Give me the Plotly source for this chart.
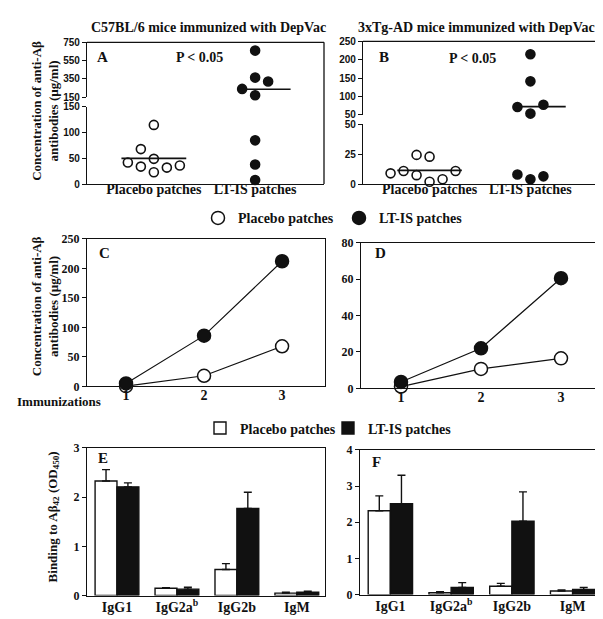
import plotly.graph_objects as go

# ---------------- data ----------------
groups = ["Placebo patches", "LT-IS patches"]
A_placebo = [49, 34, 32, 42, 36, 68, 23, 115]
A_ltis = [660, 364, 171, 240, 321, 85, 38, 8]
B_placebo = [23, 24.5, 2, 7.5, 4, 11, 11, 9]
B_ltis = [215, 141, 53, 71, 77, 4, 8, 6.5]

immunizations = [1, 2, 3]
C_placebo = [0.5, 18, 68]
C_ltis = [5, 86, 212]
D_placebo = [1, 10.7, 16.5]
D_ltis = [3.5, 22, 60.5]

isotypes = ["IgG1", "IgG2a<sup>b</sup>", "IgG2b", "IgM"]
E_placebo = [2.33, 0.15, 0.53, 0.05]
E_placebo_err = [0.23, 0.01, 0.12, 0.02]
E_ltis = [2.21, 0.13, 1.77, 0.07]
E_ltis_err = [0.08, 0.04, 0.33, 0.02]
F_placebo = [2.32, 0.05, 0.23, 0.10]
F_placebo_err = [0.41, 0.03, 0.08, 0.03]
F_ltis = [2.51, 0.20, 2.03, 0.14]
F_ltis_err = [0.79, 0.13, 0.81, 0.06]

# ---------------- layout geometry ----------------
W, H = 603, 619
SERIF = "Liberation Serif"
SANS = "Liberation Sans"
LW = 1.3
BLACK = "#111111"


def xd(a, b):
    return [a / W, b / W]


def yd(top, bottom):
    return [1 - bottom / H, 1 - top / H]


# broken-axis panels
PA = dict(xl=79, xr=316, ut=28, ub=84, lt=94, lb=173, split=150, umax=750, xmin=-0.66, xmax=1.68)
PB = dict(xl=355, xr=590, ut=27, ub=102, lt=112, lb=173, split=50, umax=250, xmin=-0.66, xmax=1.67)


def to_px(p):
    def f(v):
        if v >= p["split"]:
            return p["ut"] + (p["umax"] - v) * (p["ub"] - p["ut"]) / (p["umax"] - p["split"])
        return p["lb"] - v * (p["lb"] - p["lt"]) / p["split"]
    return f


def swarm(values, p, step=13, thresh=11):
    conv = to_px(p)
    ppu = (p["xr"] - p["xl"]) / (p["xmax"] - p["xmin"])
    placed, offs = [], []
    cands = [0, -1, 1, -2, 2, -3, 3, -4, 4]
    for v in values:
        py = conv(v)
        ox = 0
        for c in cands:
            ox = c * step
            if all((ox - qx) ** 2 + (py - qy) ** 2 >= thresh ** 2 for qx, qy in placed):
                break
        placed.append((ox, py))
        offs.append(ox / ppu)
    return offs


fig = go.Figure()


def dot_panel(p, data_sets, xa, ya_up, ya_lo):
    for gi, (vals, filled) in enumerate(data_sets):
        offs = swarm(vals, p)
        up_x, up_y, lo_x, lo_y = [], [], [], []
        for v, o in zip(vals, offs):
            if v >= p["split"]:
                up_x.append(gi + o); up_y.append(v)
            else:
                lo_x.append(gi + o); lo_y.append(v)
        mk = dict(size=9, color=BLACK if filled else "white", line=dict(color=BLACK, width=1.6))
        for xs, ys, ya in ((up_x, up_y, ya_up), (lo_x, lo_y, ya_lo)):
            if xs:
                fig.add_trace(go.Scatter(x=xs, y=ys, mode="markers", marker=mk, xaxis=xa, yaxis=ya,
                                         showlegend=False, cliponaxis=False, hoverinfo="y"))
        mean = sum(vals) / len(vals)
        ext = (-0.32, 0.32) if gi == 0 else (-0.17, 0.35)
        fig.add_trace(go.Scatter(x=[gi + ext[0], gi + ext[1]], y=[mean, mean], mode="lines",
                                 line=dict(color=BLACK, width=1.6), xaxis=xa,
                                 yaxis=ya_up if mean >= p["split"] else ya_lo,
                                 showlegend=False, hoverinfo="skip"))


dot_panel(PA, [(A_placebo, False), (A_ltis, True)], "x", "y", "y2")
dot_panel(PB, [(B_placebo, False), (B_ltis, True)], "x2", "y3", "y4")

# line panels C, D
for xa, ya, pl, lt in (("x3", "y5", C_placebo, C_ltis), ("x4", "y6", D_placebo, D_ltis)):
    for vals in (pl, lt):
        fig.add_trace(go.Scatter(x=immunizations, y=vals, mode="lines", line=dict(color=BLACK, width=1.2),
                                 xaxis=xa, yaxis=ya, showlegend=False, hoverinfo="skip", cliponaxis=False))
    show = xa == "x3"
    fig.add_trace(go.Scatter(x=immunizations, y=pl, mode="markers", name="Placebo patches",
                             marker=dict(size=13, color="white", line=dict(color=BLACK, width=1.5)),
                             xaxis=xa, yaxis=ya, showlegend=show, legend="legend", cliponaxis=False))
    fig.add_trace(go.Scatter(x=immunizations, y=lt, mode="markers", name="LT-IS patches",
                             marker=dict(size=13, color=BLACK, line=dict(color=BLACK, width=1.5)),
                             xaxis=xa, yaxis=ya, showlegend=show, legend="legend2", cliponaxis=False))

# bar panels E, F
for xa, ya, pl, ple, lt, lte in (("x5", "y7", E_placebo, E_placebo_err, E_ltis, E_ltis_err),
                                 ("x6", "y8", F_placebo, F_placebo_err, F_ltis, F_ltis_err)):
    show = xa == "x5"
    fig.add_trace(go.Bar(x=isotypes, y=pl, name="Placebo patches", marker=dict(color="white", line=dict(color=BLACK, width=1.4)),
                         error_y=dict(type="data", array=ple, arrayminus=[0] * len(ple), symmetric=False,
                                      color=BLACK, thickness=1.4, width=4),
                         xaxis=xa, yaxis=ya, showlegend=show, legend="legend3", offsetgroup="p"))
    fig.add_trace(go.Bar(x=isotypes, y=lt, name="LT-IS patches", marker=dict(color=BLACK, line=dict(color=BLACK, width=1.4)),
                         error_y=dict(type="data", array=lte, arrayminus=[0] * len(lte), symmetric=False,
                                      color=BLACK, thickness=1.4, width=4),
                         xaxis=xa, yaxis=ya, showlegend=show, legend="legend4", offsetgroup="l"))

tick_sans = dict(family=SANS, size=10, color=BLACK, weight="bold")
tick_serif = dict(family=SERIF, size=12, color=BLACK, weight="bold")
xtick_serif = dict(family=SERIF, size=14, color=BLACK, weight="bold")

base_axis = dict(showline=True, linecolor=BLACK, linewidth=LW, showgrid=False, zeroline=False, fixedrange=True)
yax_common = dict(base_axis, ticks="outside", ticklen=4, tickwidth=LW, tickcolor=BLACK)


def xcat(domain, rng, anchor, tv=None, tt=None, font=xtick_serif, mirror=False, standoff=0):
    d = dict(base_axis, domain=domain, range=rng, anchor=anchor, ticks="", tickfont=font, mirror=mirror,
             ticklabelstandoff=standoff)
    if tv is not None:
        d.update(tickmode="array", tickvals=tv, ticktext=tt)
    return d


layout = dict(
    width=W, height=H, autosize=False, margin=dict(l=0, r=0, t=0, b=0),
    paper_bgcolor="white", plot_bgcolor="rgba(0,0,0,0)",
    barmode="group", bargap=0.27, bargroupgap=0.0,
    # A
    xaxis=xcat(xd(PA["xl"], PA["xr"]), [PA["xmin"], PA["xmax"]], "y2", [0, 1], groups, standoff=-8),
    yaxis=dict(yax_common, domain=yd(PA["ut"], PA["ub"]), range=[150, 750], anchor="x",
               tickvals=[150, 350, 550, 750], tickfont=tick_sans),
    yaxis2=dict(yax_common, domain=yd(PA["lt"], PA["lb"]), range=[0, 150], anchor="x",
                tickvals=[0, 50, 100, 150], tickfont=tick_sans),
    # B
    xaxis2=xcat(xd(PB["xl"], PB["xr"]), [PB["xmin"], PB["xmax"]], "y4", [0, 1], groups, standoff=-8),
    yaxis3=dict(yax_common, domain=yd(PB["ut"], PB["ub"]), range=[50, 250], anchor="x2",
                tickvals=[50, 100, 150, 200, 250], tickfont=tick_sans),
    yaxis4=dict(yax_common, domain=yd(PB["lt"], PB["lb"]), range=[0, 50], anchor="x2",
                tickvals=[0, 25, 50], tickfont=tick_sans),
    # C
    xaxis3=xcat(xd(79, 317), [0.5, 3.55], "y5", immunizations, [str(i) for i in immunizations],
                font=dict(tick_serif, size=14), mirror=True, standoff=-4),
    yaxis5=dict(yax_common, domain=yd(229, 380), range=[0, 250], anchor="x3", mirror=True,
                tickvals=[0, 50, 100, 150, 200, 250], tickfont=tick_serif),
    # D
    xaxis4=xcat(xd(353, 593), [0.5, 3.5], "y6", immunizations, [str(i) for i in immunizations],
                font=dict(tick_serif, size=14), mirror=True, standoff=-4),
    yaxis6=dict(yax_common, domain=yd(233, 382), range=[0, 80], anchor="x4", mirror=True,
                tickvals=[0, 20, 40, 60, 80], tickfont=tick_serif),
    # E
    xaxis5=xcat(xd(79, 317), [-0.5, 3.47], "y7", font=dict(tick_serif, size=14), mirror=True, standoff=-2),
    yaxis7=dict(yax_common, domain=yd(443, 594), range=[0, 3], anchor="x5", mirror=True,
                tickvals=[0, 1, 2, 3], tickfont=tick_serif),
    # F
    xaxis6=xcat(xd(352, 595), [-0.5, 3.5], "y8", font=dict(tick_serif, size=14), mirror=True, standoff=-2),
    yaxis8=dict(yax_common, domain=yd(445, 593), range=[0, 4], anchor="x6", mirror=True,
                tickvals=[0, 1, 2, 3, 4], tickfont=tick_serif),
)

leg_font = dict(family=SERIF, size=14, color=BLACK, weight="bold")
for name, px, py in (("legend", 190, 208), ("legend2", 331, 208), ("legend3", 192, 423), ("legend4", 320, 423)):
    layout[name] = dict(x=px / W, y=1 - py / H, xanchor="left", yanchor="middle", orientation="h",
                        font=leg_font, bgcolor="rgba(0,0,0,0)", borderwidth=0, itemwidth=30,
                        tracegroupgap=0)

fig.update_layout(**layout)

# frame pieces for the broken-axis panels (top and right borders)
for p in (PA, PB):
    fig.add_shape(type="line", xref="paper", yref="paper", x0=p["xl"] / W, x1=p["xr"] / W,
                  y0=1 - p["ut"] / H, y1=1 - p["ut"] / H, line=dict(color=BLACK, width=LW))
    fig.add_shape(type="line", xref="paper", yref="paper", x0=p["xr"] / W, x1=p["xr"] / W,
                  y0=1 - p["ut"] / H, y1=1 - p["lb"] / H, line=dict(color=BLACK, width=LW))


def ann(text, x, y, size=14, xanchor="center", angle=0, yanchor="middle"):
    fig.add_annotation(text=text, x=x / W, y=1 - y / H, xref="paper", yref="paper", showarrow=False,
                       xanchor=xanchor, yanchor=yanchor, textangle=angle,
                       font=dict(family=SERIF, size=size, color=BLACK, weight="bold"))


ann("C57BL/6 mice immunized with DepVac", 200, 13)
ann("3xTg-AD mice immunized with DepVac", 468, 13)
ann("P &lt; 0.05", 191, 43)
ann("P &lt; 0.05", 464, 45)
for letter, x, y in (("A", 87, 43), ("B", 369, 43), ("C", 89, 243), ("D", 365, 244), ("E", 88, 453), ("F", 362, 457)):
    ann(letter, x, y, size=15, xanchor="left")
ann("Concentration of anti-Aβ<br>antibodies (µg/ml)", 37, 98, size=13, angle=-90)
ann("Concentration of anti-Aβ<br>antibodies (µg/ml)", 37, 298, size=13, angle=-90)
ann("Binding to Aβ<sub>42</sub> (OD<sub>450</sub>)", 45, 513, size=13, angle=-90)
ann("Immunizations", 7, 395, size=13, xanchor="left")

fig.write_html("out.html")
